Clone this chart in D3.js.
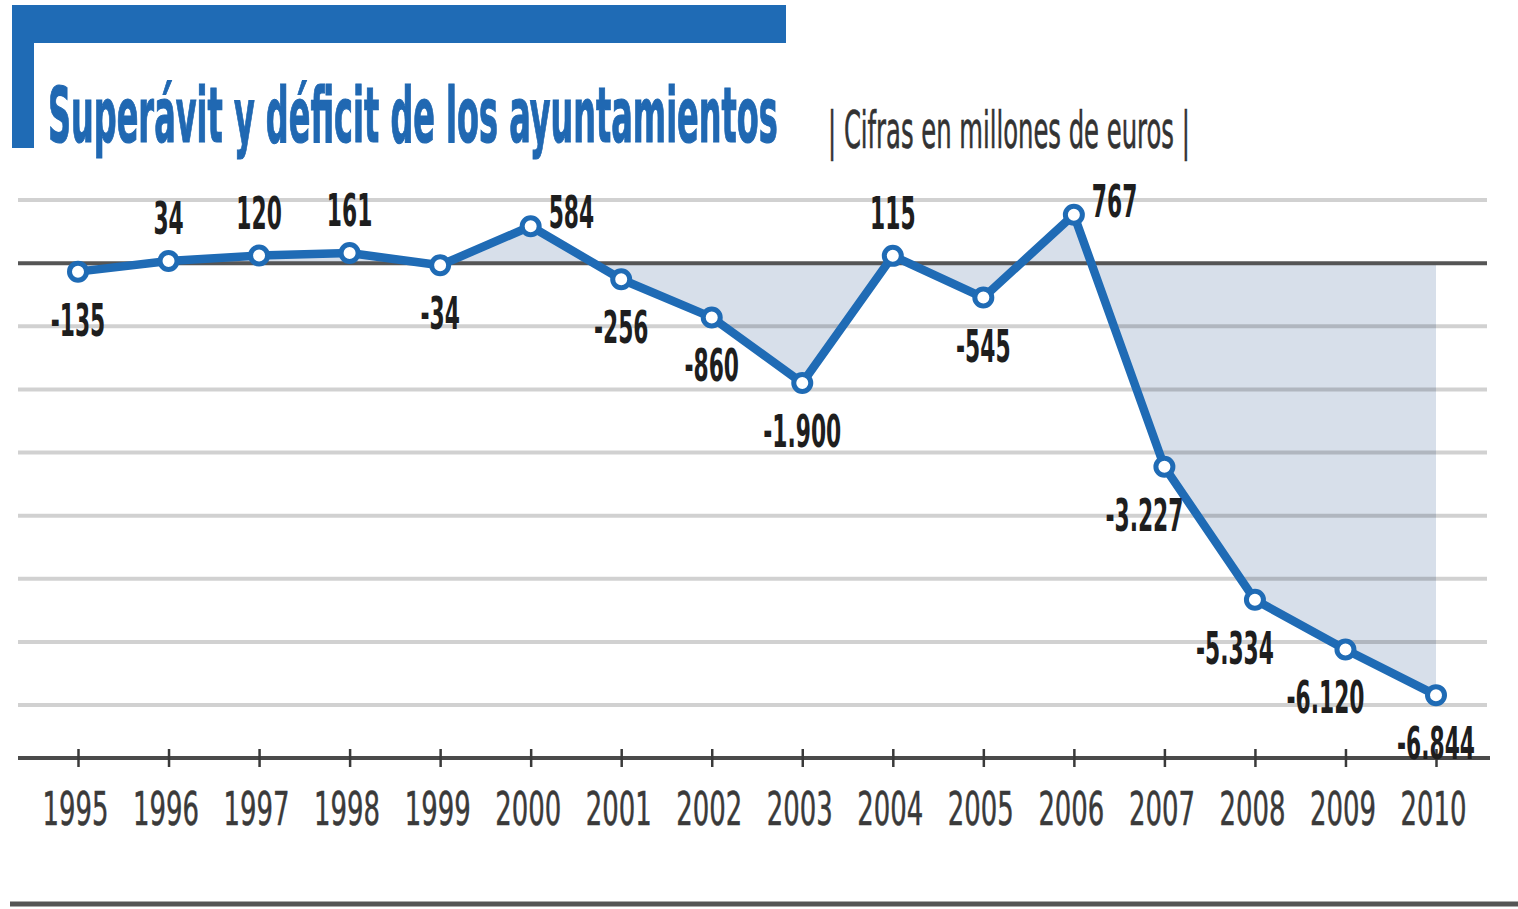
<!DOCTYPE html>
<html>
<head>
<meta charset="utf-8">
<script src="https://cdn.jsdelivr.net/npm/d3@7"></script>
<style>
  html, body { margin: 0; padding: 0; background: #fff; }
  svg { display: block; }
</style>
</head>
<body>
<script>
// superávit / déficit de los ayuntamientos, millones de euros
const years = [1995, 1996, 1997, 1998, 1999, 2000, 2001, 2002, 2003, 2004, 2005, 2006, 2007, 2008, 2009, 2010]
const values = [-135, 34, 120, 161, -34, 584, -256, -860, -1900, 115, -545, 767, -3227, -5334, -6120, -6844]
const valueLabels = ["-135", "34", "120", "161", "-34", "584", "-256", "-860", "-1.900", "115", "-545", "767", "-3.227", "-5.334", "-6.120", "-6.844"]
// where each value label sits relative to its point
const labelSide = ["below", "above", "above", "above", "below", "right", "below", "below", "below", "above", "below", "right", "belowLeft", "belowLeft", "belowLeft", "below"]
const gridValues = [1000, 0, -1000, -2000, -3000, -4000, -5000, -6000, -7000]

const title = "Superávit y déficit de los ayuntamientos"
const subtitle = "| Cifras en millones de euros |"

const width = 1518
const height = 909
const blue = "#1f6bb5"
const narrow = "'Liberation Sans Narrow', 'DejaVu Sans Condensed', 'Roboto Condensed', sans-serif"

const svg = d3.select("body").append("svg")
    .attr("width", width)
    .attr("height", height)

const x = d3.scaleLinear().domain([1995, 2010]).range([78, 1436])
const y = d3.scaleLinear().domain([1000, -7000]).range([200, 705])
const axisY = 758

// squeeze text horizontally so it reaches a given width (the original face is very condensed)
function squeeze(sel, sample, target) {
  const probe = sel.append("text").text(sample)
  const w = probe.node().getComputedTextLength()
  probe.remove()
  return target / w
}

// header bar
svg.append("rect").attr("x", 12).attr("y", 5).attr("width", 774).attr("height", 38).attr("fill", blue)
svg.append("rect").attr("x", 12).attr("y", 5).attr("width", 22).attr("height", 143).attr("fill", blue)

const titleG = svg.append("g")
    .attr("font-family", narrow)
    .attr("font-weight", "bold")
    .attr("font-size", 76)
    .attr("fill", "#2068b2")
    .attr("stroke", "#2068b2")
    .attr("stroke-width", 1.2)
const kt = squeeze(titleG, title, 730)
titleG.append("text")
    .attr("transform", "translate(48,142) scale(" + kt + ",1)")
    .text(title)

const subG = svg.append("g")
    .attr("font-family", narrow)
    .attr("font-size", 52)
    .attr("fill", "#333")
    .attr("stroke", "#333")
    .attr("stroke-width", 0.6)
const ks = squeeze(subG, subtitle, 362)
subG.append("text")
    .attr("transform", "translate(828,148) scale(" + ks + ",1)")
    .text(subtitle)

// filled area between the line and zero
svg.append("path")
    .datum(values)
    .attr("fill", "#d7dfea")
    .attr("d", d3.area()
      .x((d, i) => x(years[i]))
      .y0(y(0))
      .y1(d => y(d)))

// grid
svg.append("g")
  .selectAll("line")
  .data(gridValues.filter(d => d !== 0))
  .enter().append("line")
    .attr("x1", 18)
    .attr("x2", 1487)
    .attr("y1", d => y(d))
    .attr("y2", d => y(d))
    .attr("stroke", "#000")
    .attr("stroke-opacity", 0.18)
    .attr("stroke-width", 4)

svg.append("line")
    .attr("x1", 18).attr("x2", 1487)
    .attr("y1", y(0)).attr("y2", y(0))
    .attr("stroke", "#555")
    .attr("stroke-width", 4)

// x axis
const axis = svg.append("g")
    .attr("transform", "translate(0," + axisY + ")")
    .call(d3.axisBottom(x).tickValues(years).tickFormat(d3.format("d")).tickSizeOuter(0).tickSizeInner(9))
axis.attr("font-family", narrow)
    .attr("font-size", 46)
axis.select(".domain").remove()
axis.insert("line", ":first-child")
    .attr("x1", 18).attr("x2", 1490)
    .attr("stroke", "#4a4a4a")
    .attr("stroke-width", 4)
axis.selectAll(".tick line")
    .attr("y1", -9)
    .attr("stroke", "#3a3a3a")
    .attr("stroke-width", 2.5)
const ky = squeeze(axis, "1995", 66)
axis.selectAll(".tick text")
    .attr("fill", "#3a3a3a")
    .attr("stroke", "#3a3a3a")
    .attr("stroke-width", 0.5)
    .attr("y", 0)
    .attr("dy", 0)
    .attr("transform", "translate(-3,67) scale(" + ky + ",1)")

// line and points
svg.append("path")
    .datum(values)
    .attr("fill", "none")
    .attr("stroke", blue)
    .attr("stroke-width", 8.5)
    .attr("stroke-linejoin", "round")
    .attr("d", d3.line()
      .x((d, i) => x(years[i]))
      .y(d => y(d)))

svg.append("g")
  .selectAll("circle")
  .data(values)
  .enter().append("circle")
    .attr("cx", (d, i) => x(years[i]))
    .attr("cy", d => y(d))
    .attr("r", 8.5)
    .attr("fill", "#fff")
    .attr("stroke", blue)
    .attr("stroke-width", 5)

// value labels
const labG = svg.append("g")
    .attr("font-family", narrow)
    .attr("font-weight", "bold")
    .attr("font-size", 44)
    .attr("fill", "#1e1e1e")
const kl = squeeze(labG, "-1.900", 78)
const offsets = {
  below: [0, 64, "middle"],
  above: [0, -27, "middle"],
  right: [18, 2, "start"],
  belowLeft: [-20, 64, "middle"]
}
labG.selectAll("text")
  .data(values)
  .enter().append("text")
    .attr("text-anchor", (d, i) => offsets[labelSide[i]][2])
    .attr("transform", (d, i) => {
      const o = offsets[labelSide[i]]
      return "translate(" + (x(years[i]) + o[0]) + "," + (y(d) + o[1]) + ") scale(" + kl + ",1)"
    })
    .text((d, i) => valueLabels[i])

// bottom rule
svg.append("line")
    .attr("x1", 10).attr("x2", width)
    .attr("y1", 904).attr("y2", 904)
    .attr("stroke", "#555")
    .attr("stroke-width", 5)
</script>
</body>
</html>
